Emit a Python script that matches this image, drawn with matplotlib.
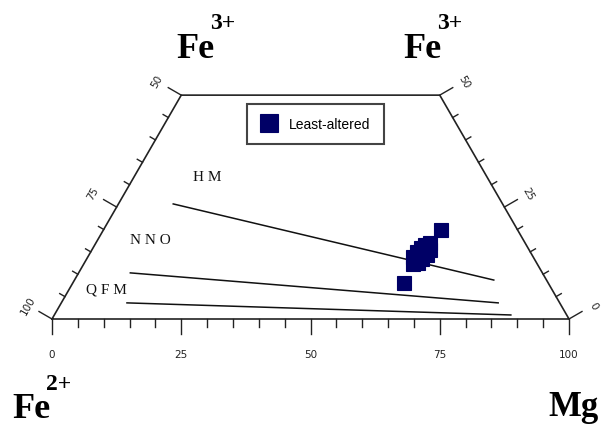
import numpy as np
import matplotlib
matplotlib.use('Agg')
import matplotlib.pyplot as plt

# ternary data in percent: Mg and Fe3+ (Fe2+ is the rest)
mg = [65.3, 64.1, 63.7, 62.9, 63.1, 63.4, 63.9, 64.6, 65.4, 65.4, 64.9, 64.5, 63.7, 64.5]
fe3 = [19.9, 8.0, 12.3, 13.9, 15.0, 15.9, 16.5, 17.0, 15.4, 14.3, 13.4, 12.5, 13.4, 15.0]

# oxygen buffer lines, (Mg, Fe3+) at both ends
buffers = ['H M', 'N N O', 'Q F M']
buf_mg = [[10.6, 81.1], [10.0, 84.5], [12.7, 88.3]]
buf_fe3 = [[25.7, 8.7], [10.3, 3.6], [3.6, 0.9]]

bottom_ticks = [0, 25, 50, 75, 100]
left_ticks = [100, 75, 50]    # Fe2+
right_ticks = [0, 25, 50]     # Fe3+

H = np.sqrt(3) / 2
W, Hpx = 603, 427
S = 5.17  # px per unit


def tern(m, f):
    m = np.asarray(m, float)
    f = np.asarray(f, float)
    return m + f / 2, f * H


def fig_xy(px, py):
    return px / W, 1 - py / Hpx


fig = plt.figure(figsize=(6.03, 4.27), dpi=100)
ax = fig.add_axes([0, 0, 1, 1])
ax.set_xlim(-52 / S, (W - 52) / S)
ax.set_ylim(-(Hpx - 320) / S, 320 / S)
ax.axis('off')

lc = '#222222'

# truncated triangle outline
ox, oy = tern([0, 100, 50, 0, 0], [0, 0, 50, 50, 0])
ax.plot(ox, oy, color=lc, lw=1.2, solid_joinstyle='miter')

# bottom ticks (Mg)
for v in range(0, 101, 5):
    L = 15 / S if v % 25 == 0 else 8 / S
    ax.plot([v, v], [0, -L], color=lc, lw=1.0)
for v in bottom_ticks:
    ax.text(v, -35 / S, str(v), ha='center', va='center', fontsize=7.5,
            family='DejaVu Sans', color='#222222')

# left edge ticks (Fe2+)
nl = np.array([-H, 0.5])
for v in range(50, 101, 5):
    x0, y0 = tern(0, 100 - v)
    L = 15 / S if v % 25 == 0 else 6 / S
    ax.plot([x0, x0 + nl[0] * L], [y0, y0 + nl[1] * L], color=lc, lw=1.0)
for v in left_ticks:
    x0, y0 = tern(0, 100 - v)
    d = 28 / S
    ax.text(x0 + nl[0] * d, y0 + nl[1] * d, str(v), ha='center', va='center',
            rotation=60, fontsize=7.5, color='#222222')

# right edge ticks (Fe3+)
nr = np.array([H, 0.5])
for v in range(0, 51, 5):
    x0, y0 = tern(100 - v, v)
    L = 15 / S if v % 25 == 0 else 6 / S
    ax.plot([x0, x0 + nr[0] * L], [y0, y0 + nr[1] * L], color=lc, lw=1.0)
for v in right_ticks:
    x0, y0 = tern(100 - v, v)
    d = 28 / S
    ax.text(x0 + nr[0] * d, y0 + nr[1] * d, str(v), ha='center', va='center',
            rotation=-60, fontsize=7.5, color='#222222')

# buffer lines
for i in range(len(buffers)):
    bx, by = tern(buf_mg[i], buf_fe3[i])
    ax.plot(bx, by, color='#111111', lw=1.1)

lab_pos = [(207, 178), (150, 241), (106, 290)]
for name, (px, py) in zip(buffers, lab_pos):
    fig.text(*fig_xy(px, py), name, ha='center', va='center', fontsize=11,
             family='Liberation Serif', color='#111111')

# samples
sx, sy = tern(mg, fe3)
ax.plot(sx, sy, 's', color='#000066', ms=10, mec='#000066', mew=0.8,
        ls='none', label='Least-altered')

leg = ax.legend(loc='upper left', bbox_to_anchor=fig_xy(247, 105),
                bbox_transform=fig.transFigure, borderaxespad=0,
                fancybox=False, framealpha=1, edgecolor='#444444',
                borderpad=0.95, handlelength=1.3, handletextpad=0.8,
                markerscale=1.25, prop={'family': 'Liberation Sans', 'size': 10})
leg.get_frame().set_linewidth(1.5)

# corner labels
big = dict(family='Liberation Serif', weight='bold', color='black')
for fx, sx_ in [(176, 210), (403, 437)]:
    fig.text(*fig_xy(fx, 58), 'Fe', ha='left', va='baseline', fontsize=26, **big)
    fig.text(*fig_xy(sx_, 29), '3+', ha='left', va='baseline', fontsize=17, **big)
fig.text(*fig_xy(12, 418), 'Fe', ha='left', va='baseline', fontsize=26, **big)
fig.text(*fig_xy(46, 390), '2+', ha='left', va='baseline', fontsize=17, **big)
fig.text(*fig_xy(599, 416), 'Mg', ha='right', va='baseline', fontsize=25, **big)

fig.savefig('out.png', dpi=100)
